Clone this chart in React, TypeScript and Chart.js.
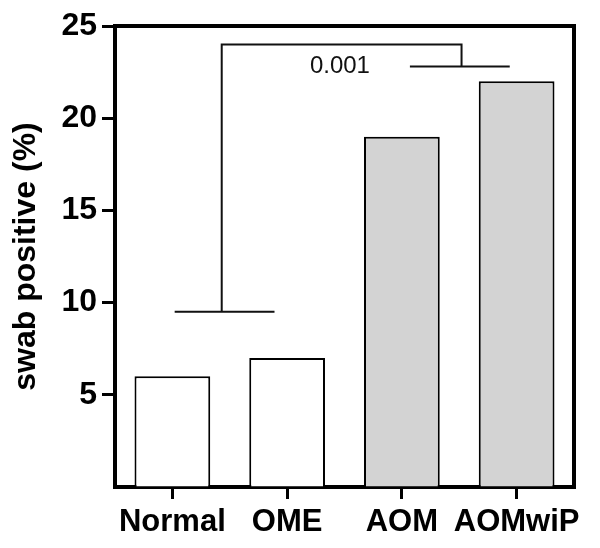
import React, { useEffect, useRef } from "react";
import { Chart, registerables } from "chart.js";

Chart.register(...registerables);

const categories = ["Normal", "OME", "AOM", "AOMwiP"];
const values = [6, 7, 19, 22];
const barColors = ["#ffffff", "#ffffff", "#d3d3d3", "#d3d3d3"];
const yTicks = [5, 10, 15, 20, 25];
const pLabel = "0.001";
// bracket annotation in data units: [x1, x2, y]
const leftBar = [0.02, 0.89, 9.5];
const topBar = [0.43, 2.52, 24.0];
const rightBar = [2.07, 2.94, 22.8];
const pLabelPos = [1.46, 22.8];

const FONT = "'Liberation Sans', Arial, sans-serif";

const framePlugin = {
  id: "frameAndBrackets",
  afterDatasetsDraw(chart: any) {
    const { ctx, chartArea, scales } = chart;
    const x = scales.x;
    const y = scales.y;
    ctx.save();
    ctx.strokeStyle = "#000";
    ctx.lineWidth = 4;
    ctx.beginPath();
    ctx.moveTo(chartArea.left - 2, chartArea.top);
    ctx.lineTo(chartArea.right, chartArea.top);
    ctx.lineTo(chartArea.right, chartArea.bottom + 2);
    ctx.stroke();

    ctx.lineWidth = 2;
    ctx.strokeStyle = "#111";
    const px = (v: number) => x.getPixelForValue(v);
    const py = (v: number) => y.getPixelForValue(v);
    ctx.beginPath();
    ctx.moveTo(px(leftBar[0]), py(leftBar[2]));
    ctx.lineTo(px(leftBar[1]), py(leftBar[2]));
    ctx.moveTo(px(topBar[0]), py(leftBar[2]));
    ctx.lineTo(px(topBar[0]), py(topBar[2]));
    ctx.lineTo(px(topBar[1]), py(topBar[2]));
    ctx.lineTo(px(topBar[1]), py(rightBar[2]));
    ctx.moveTo(px(rightBar[0]), py(rightBar[2]));
    ctx.lineTo(px(rightBar[1]), py(rightBar[2]));
    ctx.stroke();

    ctx.fillStyle = "#111";
    ctx.font = `24px ${FONT}`;
    ctx.textAlign = "center";
    ctx.textBaseline = "middle";
    ctx.fillText(pLabel, px(pLabelPos[0]), py(pLabelPos[1]));
    ctx.restore();
  },
};

export default function App() {
  const ref = useRef<HTMLCanvasElement | null>(null);
  useEffect(() => {
    if (!ref.current) return;
    const chart = new Chart(ref.current, {
      type: "bar",
      data: {
        labels: categories,
        datasets: [
          {
            data: values,
            backgroundColor: barColors,
            borderColor: "#000",
            borderWidth: 2,
            barPercentage: 0.66,
            categoryPercentage: 1,
          },
        ],
      },
      options: {
        animation: false,
        responsive: false,
        devicePixelRatio: 1,
        layout: { padding: { top: 26, right: 26, left: 0, bottom: 0 } },
        plugins: { legend: { display: false }, tooltip: { enabled: false } },
        scales: {
          x: {
            grid: {
              offset: false,
              drawOnChartArea: false,
              drawTicks: true,
              tickLength: 12,
              tickWidth: 3,
              color: "#000",
            },
            border: { display: true, width: 4, color: "#000" },
            ticks: {
              color: "#000",
              font: { family: FONT, size: 31, weight: "bold" },
              padding: 5,
              maxRotation: 0,
              autoSkip: false,
            },
            afterFit: (s: any) => {
              s.height = 61;
            },
          },
          y: {
            min: 0,
            max: 25,
            afterBuildTicks: (s: any) => {
              s.ticks = [0, ...yTicks].map((v) => ({ value: v }));
            },
            grid: {
              drawOnChartArea: false,
              drawTicks: true,
              tickLength: 13,
              tickWidth: 3,
              color: (c: any) => (c.tick && c.tick.value === 0 ? "rgba(0,0,0,0)" : "#000"),
            },
            border: { display: true, width: 4, color: "#000" },
            ticks: {
              color: "#000",
              font: { family: FONT, size: 32, weight: "bold" },
              padding: 5,
              autoSkip: false,
              callback: (v: any) => (v === 0 ? "" : String(v)),
            },
            title: {
              display: true,
              text: "swab positive (%)",
              color: "#000",
              font: { family: FONT, size: 32, weight: "bold" },
              padding: { top: 7, bottom: 0 },
            },
            afterFit: (s: any) => {
              s.width = 115;
            },
          },
        },
      },
      plugins: [framePlugin],
    } as any);
    return () => chart.destroy();
  }, []);
  return (
    <div style={{ position: "absolute", left: 0, top: 0, width: 600, height: 548, background: "#fff" }}>
      <canvas ref={ref} width={600} height={548} style={{ display: "block" }} />
    </div>
  );
}
